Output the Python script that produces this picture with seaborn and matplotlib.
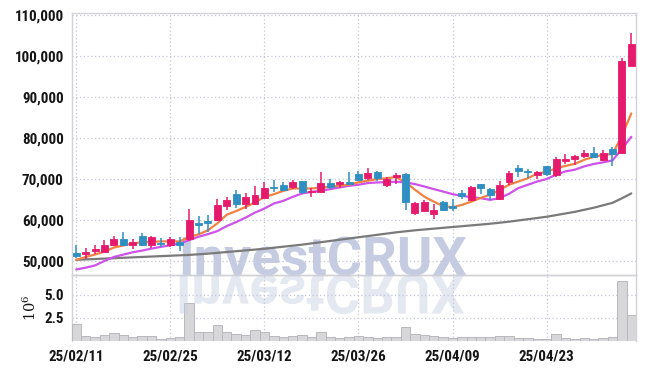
import numpy as np
import matplotlib
matplotlib.use("Agg")
import matplotlib.pyplot as plt
import seaborn as sns
from matplotlib import font_manager
from matplotlib.font_manager import FontProperties
from matplotlib.textpath import TextPath
from matplotlib.patches import PathPatch
from matplotlib.transforms import Affine2D

# ---------------- data ----------------
dates = ["25/02/11", "25/02/12", "25/02/13", "25/02/14", "25/02/17", "25/02/18", "25/02/19",
         "25/02/20", "25/02/21", "25/02/24", "25/02/25", "25/02/26", "25/02/27", "25/02/28",
         "25/03/04", "25/03/05", "25/03/06", "25/03/07", "25/03/10", "25/03/11", "25/03/12",
         "25/03/13", "25/03/14", "25/03/17", "25/03/18", "25/03/19", "25/03/20", "25/03/21",
         "25/03/24", "25/03/25", "25/03/26", "25/03/27", "25/03/28", "25/03/31", "25/04/01",
         "25/04/02", "25/04/03", "25/04/04", "25/04/07", "25/04/08", "25/04/09", "25/04/10",
         "25/04/11", "25/04/14", "25/04/15", "25/04/16", "25/04/17", "25/04/18", "25/04/21",
         "25/04/22", "25/04/23", "25/04/24", "25/04/25", "25/04/28", "25/04/29", "25/04/30",
         "25/05/02", "25/05/07", "25/05/08", "25/05/09"]

opens = [52000, 51800, 52400, 52200, 53900, 55300, 53800, 56000, 53800, 54500,
         53800, 54700, 55300, 59300, 59800, 60000, 63500, 66300, 63900, 63900,
         65300, 68000, 68500, 68000, 69400, 66800, 66900, 69000, 68900, 69200,
         71300, 70200, 71700, 68600, 70600, 71200, 61800, 62300, 61500, 64400,
         63400, 66600, 64800, 68800, 67500, 65200, 69200, 72800, 72000, 70900,
         73100, 70900, 74500, 74900, 75500, 76400, 74600, 77400, 76400, 97600]
closes = [51300, 52100, 52900, 54000, 55500, 53900, 54600, 53900, 55800, 54200,
          55400, 54000, 60100, 58900, 59400, 63600, 64800, 63900, 65500, 66100,
          67800, 67700, 67300, 69300, 66900, 67100, 69000, 68000, 69200, 68900,
          69800, 71500, 70200, 70000, 71000, 64400, 64100, 64500, 62500, 62500,
          63000, 65900, 68000, 67700, 66100, 68600, 71500, 71900, 71600, 71800,
          71200, 74900, 75000, 75500, 76400, 75400, 76400, 76100, 98700, 102900]
highs = [54000, 53200, 53800, 55100, 56200, 57200, 55300, 56900, 56100, 55600,
         55800, 55800, 62600, 61000, 61200, 65100, 65700, 67300, 66700, 68200,
         69200, 69700, 69300, 69700, 69500, 67700, 71600, 70000, 69400, 71600,
         71900, 72600, 71900, 70600, 71500, 71400, 64300, 64800, 64000, 64700,
         65200, 67400, 68300, 68900, 67700, 69400, 71900, 73500, 72500, 72000,
         73300, 75300, 76100, 75900, 77200, 77800, 77200, 77800, 99400, 105500]
lows = [50800, 50500, 51600, 52000, 53600, 53600, 53000, 53600, 53100, 53500,
        53500, 52500, 54900, 56500, 57000, 59800, 62500, 63000, 62600, 63600,
        65100, 66900, 67000, 67500, 66300, 65500, 66700, 67500, 67700, 68800,
        69600, 69800, 69600, 68000, 68800, 62500, 61200, 62100, 60200, 62300,
        62200, 65100, 64700, 66300, 64800, 64900, 68600, 70600, 70300, 70000,
        70800, 70600, 73700, 73500, 75100, 75300, 74500, 73100, 76200, 97500]

ma_short = [50300, 51000, 51600, 52300, 53300, 53800, 54300, 54600, 54700, 54800,
            54800, 54800, 55900, 56500, 57500, 59200, 61300, 62200, 63200, 64300,
            65600, 66300, 67100, 67700, 67700, 67700, 67900, 68100, 68400, 68600,
            69200, 69600, 70000, 70200, 70500, 69200, 67400, 65700, 64500, 63400,
            63100, 63700, 64500, 65400, 66200, 67300, 68600, 69400, 70200, 71300,
            71800, 72600, 73200, 73700, 74700, 75400, 75900, 76100, 80500, 86000]
ma_mid = [47960, 48380, 48940, 50020, 51000, 51570, 52140, 52550, 53040, 53460,
          53860, 54280, 55090, 55920, 56560, 57300, 58530, 59510, 60590, 61820,
          62800, 64030, 64670, 65650, 66480, 66880, 67130, 67540, 67960, 68350,
          68600, 69020, 69170, 69260, 69340, 69170, 68770, 68180, 67540, 66950,
          66310, 65900, 65580, 65330, 64920, 65340, 66400, 67800, 68600, 69400,
          70000, 71050, 71870, 72280, 73090, 73670, 74070, 74560, 77300, 80290]
ma_long = [50300, 50400, 50500, 50600, 50700, 50800, 50900, 51000, 51100, 51200,
           51300, 51400, 51500, 51650, 51800, 52000, 52200, 52400, 52600, 52800,
           53000, 53250, 53500, 53750, 54000, 54300, 54600, 54900, 55200, 55500,
           55800, 56100, 56400, 56700, 57000, 57250, 57500, 57700, 57900, 58100,
           58300, 58500, 58700, 58900, 59100, 59350, 59600, 59900, 60200, 60500,
           60800, 61200, 61600, 62000, 62500, 63000, 63600, 64200, 65300, 66500]

volume_m = [1.85, 0.51, 0.37, 0.62, 0.84, 0.62, 0.37, 0.51, 0.51, 0.15,
            0.26, 0.37, 4.07, 0.95, 0.95, 1.70, 0.95, 0.73, 0.62, 1.16,
            0.95, 0.51, 0.37, 0.51, 0.62, 0.37, 0.95, 0.37, 0.26, 0.44,
            0.51, 0.44, 0.30, 0.37, 0.37, 1.45, 0.73, 0.62, 0.51, 0.37,
            0.26, 0.37, 0.37, 0.37, 0.37, 0.51, 0.51, 0.26, 0.26, 0.15,
            0.15, 0.73, 0.26, 0.15, 0.26, 0.15, 0.26, 0.44, 6.49, 2.79]

price_ticks = [50000, 60000, 70000, 80000, 90000, 100000, 110000]
volume_ticks = [2.5, 5.0]
date_tick_step = 10

# ---------------- styling ----------------
sns.set_theme(style="white")
names = {f.name for f in font_manager.fontManager.ttflist}


def pick_narrow():
    for cand in ["Roboto Condensed", "Liberation Sans Narrow", "Arial Narrow",
                 "Open Sans Condensed", "Noto Sans Condensed", "DejaVu Sans Condensed"]:
        if cand in names:
            return cand, "normal", True
    for f in font_manager.fontManager.ttflist:
        if str(f.stretch) in ("condensed", "semi-condensed", "extra-condensed"):
            return f.name, f.stretch, True
    return ("Roboto" if "Roboto" in names else "DejaVu Sans"), "normal", False


label_font, label_stretch, is_narrow = pick_narrow()
plt.rcParams["font.family"] = [label_font, "DejaVu Sans"]
plt.rcParams["font.stretch"] = label_stretch
plt.rcParams["axes.unicode_minus"] = False
tick_size = 10.8 if is_narrow else 9.0
wm_font = "Roboto" if "Roboto" in names else label_font

RED = "#e61a6c"
BLUE = "#2f8fc3"
ORANGE = "#f08243"
PURPLE = "#cf52ea"
GRAYLINE = "#7a7a7a"
GRID = "#c3c6d6"
SPINE = "#d2d2d6"
TXT = "#151515"
WM = "#c5cce2"

W, H = 645, 369
fig = plt.figure(figsize=(W / 100, H / 100), dpi=100)
L, R = 72, 636
ax = fig.add_axes([L / W, 1 - 275 / H, (R - L) / W, (275 - 12.7) / H])
axv = fig.add_axes([L / W, 1 - 340.7 / H, (R - L) / W, (340.7 - 275) / H], sharex=ax)
for a in (ax, axv):
    a.set_facecolor("none")

n = len(dates)
x = np.arange(n)
o = np.array(opens, float)
c = np.array(closes, float)
hi = np.array(highs, float)
lo = np.array(lows, float)
colors = np.where(c >= o, RED, BLUE)

# moving averages (behind candles)
sns.lineplot(x=x, y=ma_long, ax=ax, color=GRAYLINE, lw=1.6, zorder=2)
sns.lineplot(x=x, y=ma_mid, ax=ax, color=PURPLE, lw=1.6, zorder=2)
sns.lineplot(x=x, y=ma_short, ax=ax, color=ORANGE, lw=1.6, zorder=2)

# candles
ax.vlines(x, lo, hi, colors=colors, lw=1.1, zorder=3)
body_lo = np.minimum(o, c)
body_h = np.maximum(np.abs(c - o), 220)
ax.bar(x, body_h, bottom=body_lo, width=0.74, color=colors, edgecolor=colors,
       linewidth=0.6, zorder=4)

# volume
sns.barplot(x=x, y=volume_m, ax=axv, native_scale=True, width=1.0, color="#d7d7d9",
            edgecolor="#b9b9bd", linewidth=0.7, saturation=1, errorbar=None, zorder=3)

# axes limits & ticks
ax.set_xlim(-0.45, n - 0.5)
ax.set_ylim(46600, 110560)
axv.set_ylim(0, 7.15)
ax.set_yticks(price_ticks)
ax.set_yticklabels([f"{v:,}" for v in price_ticks])
axv.set_yticks(volume_ticks)
axv.set_yticklabels([f"{v:.1f}" for v in volume_ticks])
tick_pos = list(range(0, n, date_tick_step))
axv.set_xticks(tick_pos)
axv.set_xticklabels([dates[i] for i in tick_pos])
ax.tick_params(axis="x", labelbottom=False, length=0)
for a in (ax, axv):
    a.tick_params(axis="both", length=0, pad=6, labelsize=tick_size, labelcolor=TXT)
    for lab in a.get_yticklabels() + a.get_xticklabels():
        lab.set_fontweight("bold")
    a.grid(True, color=GRID, ls=(0, (1, 2)), lw=0.9)
    a.set_axisbelow(True)
    a.set_xlabel("")
    a.set_ylabel("")
    for s in a.spines.values():
        s.set_color(SPINE)
        s.set_linewidth(1.0)
axv.spines["bottom"].set_visible(False)

axv.set_ylabel(r"$10^6$", fontsize=10.5, color=TXT, math_fontfamily="dejavuserif")
axv.yaxis.set_label_coords((39 - L) / (R - L), 0.5)

# watermark + reflection
wm_size = 39
wm_cx = (322 - L) / (R - L)
ax.text(wm_cx, 0.0, "InvestCRUX", transform=ax.transAxes, ha="center", va="baseline",
        fontsize=wm_size, fontweight="bold", color=WM, zorder=1,
        family=[wm_font, "DejaVu Sans"], fontstretch="normal")

fp = FontProperties(family=wm_font, weight="bold", size=wm_size, stretch="normal")
tp = TextPath((0, 0), "InvestCRUX", size=wm_size, prop=fp)
ext = tp.get_extents()
tr = (Affine2D().translate(-(ext.x0 + ext.x1) / 2, 0).scale(1, -1).scale(1 / 72)
      .translate(322 / 100, (H - 275) / 100) + fig.dpi_scale_trans)
refl = PathPatch(tp, transform=tr, facecolor=WM, edgecolor="none", alpha=0.45, zorder=5)
axv.add_patch(refl)
refl.set_clip_path(axv.patch)

fig.savefig("out.png", dpi=100)
